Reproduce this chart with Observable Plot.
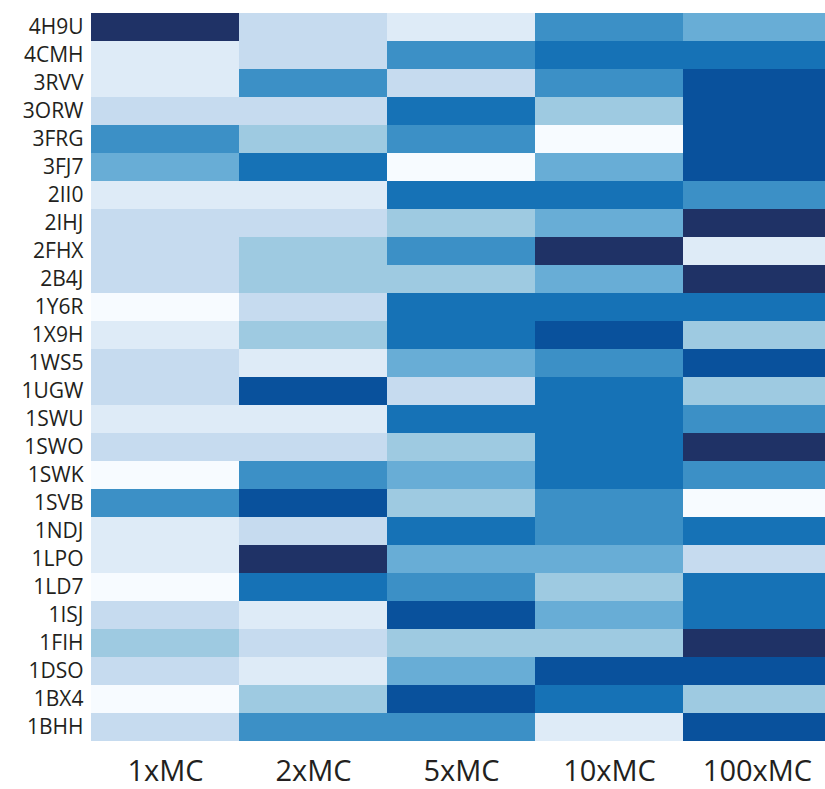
<!DOCTYPE html>
<html>
<head>
<meta charset="utf-8">
<script src="https://cdn.jsdelivr.net/npm/d3@7"></script>
<script src="https://cdn.jsdelivr.net/npm/@observablehq/plot@0.6"></script>
<style>
  html, body { margin: 0; padding: 0; background: #fff; overflow: hidden; }
  #chart svg { display: block; }
</style>
</head>
<body>
<div id="chart"></div>
<script>
const proteins = ["4H9U","4CMH","3RVV","3ORW","3FRG","3FJ7","2II0","2IHJ","2FHX","2B4J","1Y6R","1X9H","1WS5","1UGW","1SWU","1SWO","1SWK","1SVB","1NDJ","1LPO","1LD7","1ISJ","1FIH","1DSO","1BX4","1BHH"];
const conditions = ["1xMC","2xMC","5xMC","10xMC","100xMC"];
// colour level (0 = lightest … 8 = darkest) per protein, one array per condition
const level1x   = [8,1,1,2,5,4,1,2,2,2,0,1,2,2,1,2,0,5,1,1,0,2,3,2,0,2];
const level2x   = [2,2,5,2,3,6,1,2,3,3,2,3,1,7,1,2,5,7,2,8,6,1,2,1,3,5];
const level5x   = [1,5,2,6,5,0,6,3,5,3,6,6,4,2,6,3,4,3,6,4,5,7,3,4,7,5];
const level10x  = [5,6,5,3,0,4,6,4,8,4,6,7,5,6,6,6,6,5,5,4,3,4,3,7,6,1];
const level100x = [4,6,7,7,7,7,5,8,1,8,6,3,7,3,5,8,5,0,6,2,6,6,8,7,3,7];
const levelDomain = [0,1,2,3,4,5,6,7,8];
const palette = ["#f7fbff","#deebf7","#c6dbef","#9ecae1","#68add6","#3c90c6","#1672b6","#09519c","#1f3266"];

const series = [level1x, level2x, level5x, level10x, level100x];
const cells = [];
conditions.forEach((c, j) => proteins.forEach((p, i) => cells.push({protein: p, condition: c, level: series[j][i]})));

const chart = Plot.plot({
  width: 825,
  height: 789,
  marginTop: 7,
  marginBottom: 42,
  marginLeft: 91,
  marginRight: -6,
  style: {fontFamily: "'Open Sans', sans-serif", color: "#231f20", background: "#fff"},
  x: {domain: conditions, padding: 0, label: null},
  y: {domain: proteins, padding: 0, label: null},
  color: {type: "ordinal", domain: levelDomain, range: palette},
  marks: [
    Plot.cell(cells, {x: "condition", y: "protein", fill: "level", inset: 0}),
    Plot.axisY({tickSize: 0, tickPadding: 8, fontSize: 21, label: null}),
    Plot.axisX({tickSize: 0, tickPadding: 13, fontSize: 29, label: null})
  ]
});
document.getElementById("chart").appendChild(chart);
</script>
</body>
</html>
